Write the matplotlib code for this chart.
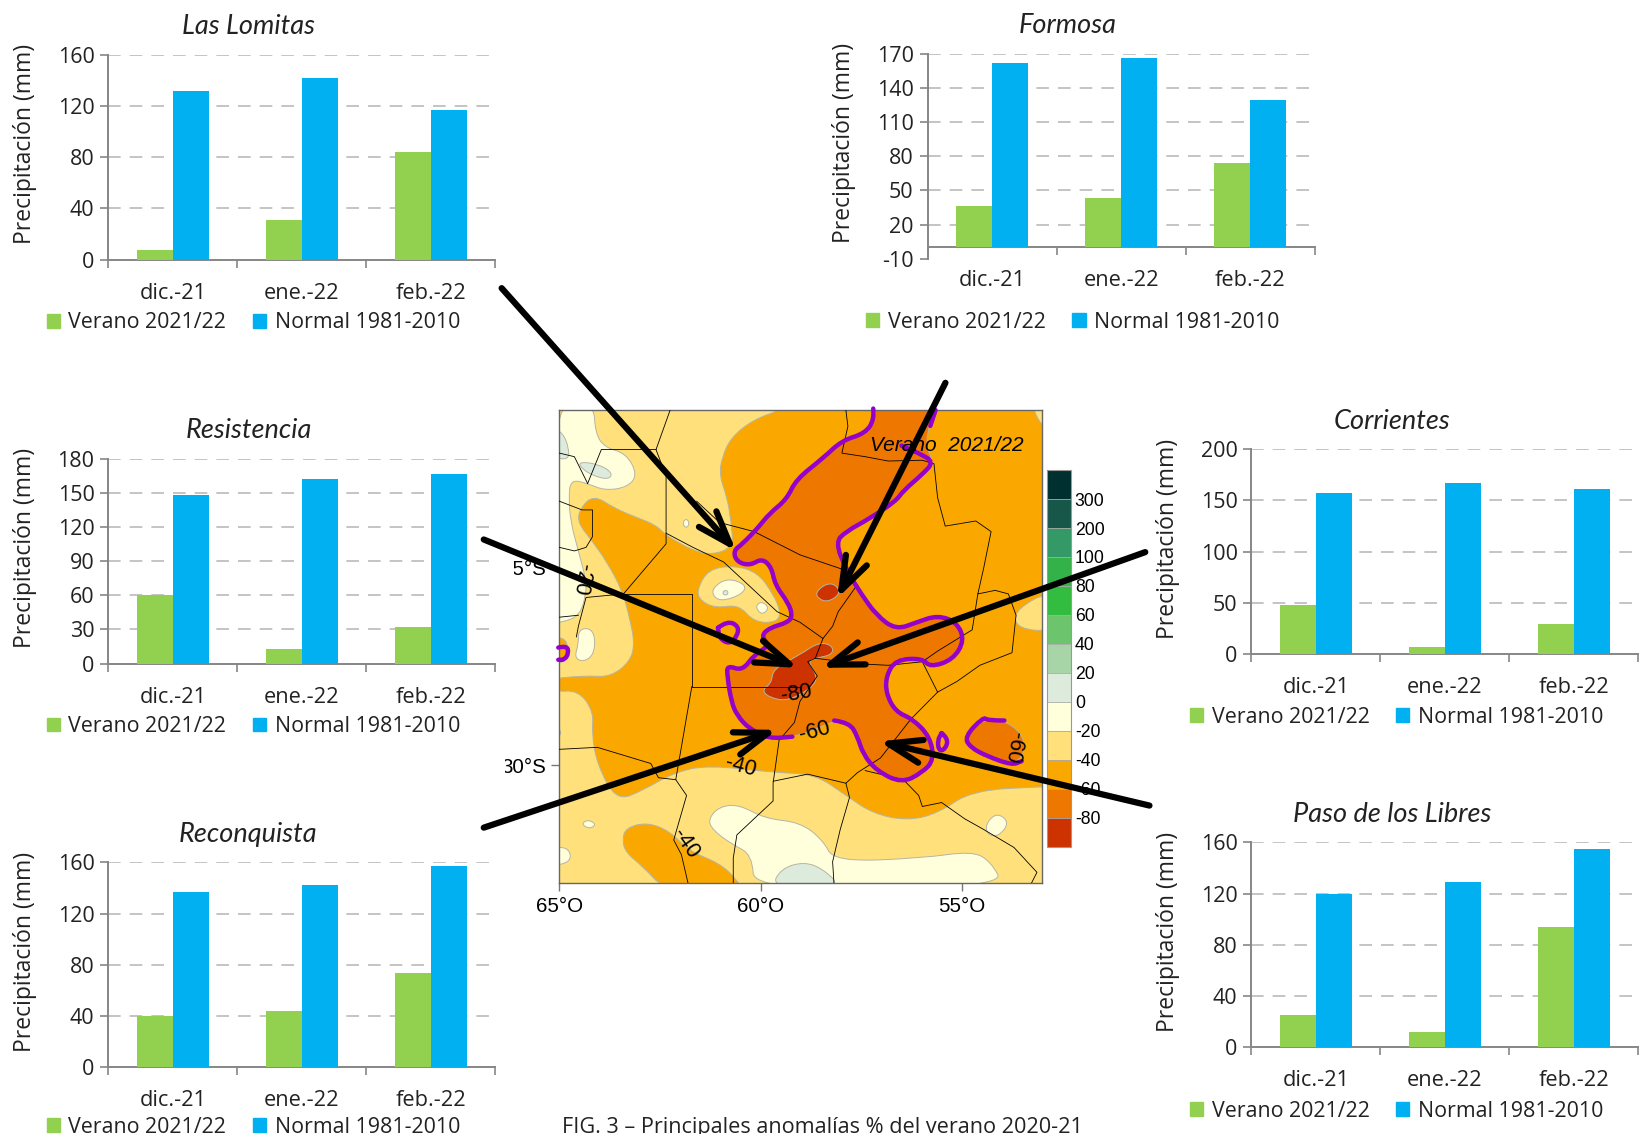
import matplotlib
matplotlib.use("Agg")
import matplotlib.pyplot as plt
import matplotlib as mpl
from matplotlib.path import Path
from matplotlib.patches import PathPatch, Patch
from matplotlib.transforms import Bbox
from matplotlib.colors import ListedColormap, BoundaryNorm

W, H = 1568.0, 1078.3
months = ["dic.-21", "ene.-22", "feb.-22"]
verano_label = "Verano 2021/22"
normal_label = "Normal 1981-2010"
ylabel_text = "Precipitación (mm)"

lomitas_verano = [8, 31, 84]
lomitas_normal = [132, 142, 117]
lomitas_ticks = [0, 40, 80, 120, 160]
formosa_verano = [36, 43, 74]
formosa_normal = [162, 166, 129]
formosa_ticks = [-10, 20, 50, 80, 110, 140, 170]
resistencia_verano = [60, 13, 32]
resistencia_normal = [148, 162, 166]
resistencia_ticks = [0, 30, 60, 90, 120, 150, 180]
reconquista_verano = [40, 44, 74]
reconquista_normal = [137, 142, 157]
reconquista_ticks = [0, 40, 80, 120, 160]
corrientes_verano = [48, 7, 29]
corrientes_normal = [157, 167, 161]
corrientes_ticks = [0, 50, 100, 150, 200]
libres_verano = [25, 12, 94]
libres_normal = [120, 129, 155]
libres_ticks = [0, 40, 80, 120, 160]

levels = [-100, -80, -60, -40, -20, 0, 20, 40, 60, 80, 100, 200, 300, 400]
level_colors = ["#CC3300", "#EE7700", "#FAA800", "#FFE07A", "#FFFFDC", "#DCEBDC", "#A8D5A8",
                "#6CC56C", "#33BD40", "#33B24A", "#339966", "#17574A", "#00302F"]
C_RED, C_DEEP, C_ORANGE, C_YELLOW, C_WHITE, C_PALE = level_colors[:6]

orange_main = [(-59.5,-20.8),(-59.5,-21.0),(-60.16,-21.23),(-60.73,-21.68),(-60.97,-22.22),(-61.02,-22.67),(-60.83,-23.22),
 (-60.73,-23.85),(-60.68,-24.48),(-61.21,-24.67),(-61.68,-24.56),(-62.21,-24.26),(-62.40,-24.12),(-62.63,-23.90),(-63.11,-23.71),
 (-63.63,-23.49),(-64.15,-23.15),(-64.49,-23.49),(-64.55,-23.85),(-64.20,-24.30),(-63.82,-24.85),(-63.44,-25.57),(-63.25,-26.29),
 (-63.13,-26.93),(-63.25,-27.38),(-63.73,-27.76),(-64.25,-27.74),(-64.68,-27.76),(-65.15,-27.81),(-65.15,-28.15),(-64.53,-28.10),
 (-64.15,-28.65),(-64.20,-29.19),(-64.06,-30.00),(-63.58,-30.91),(-62.92,-30.64),(-62.16,-30.19),(-61.30,-30.00),(-59.69,-30.19),
 (-58.64,-30.23),(-57.88,-30.77),(-57.21,-31.23),(-56.36,-31.41),(-55.60,-31.23),(-54.74,-30.64),(-53.0,-30.55),(-52.8,-30.55),
 (-52.8,-30.55),(-52.8,-21.41),(-52.8,-21.41),(-53.0,-21.41),(-53.22,-21.0),(-53.22,-20.8),(-53.22,-20.8),(-59.5,-20.8)]
orange_left = [(-65.3,-26.8),(-64.91,-26.75),(-64.77,-27.0),(-64.84,-27.4),(-65.3,-27.45)]
orange_south = [(-63.44,-31.90),(-63.35,-31.59),(-62.82,-31.45),(-62.25,-31.68),(-61.78,-32.18),(-61.02,-32.49),(-60.59,-32.90),
 (-60.45,-33.2),(-62.35,-33.2),(-62.92,-32.58),(-63.35,-32.22)]
yellow_east = [(-52.8,-25.57),(-53.60,-26.02),(-53.70,-26.38),(-53.41,-26.57),(-52.8,-26.6)]
yellow_center = [(-61.59,-25.57),(-61.30,-25.03),(-60.64,-24.94),(-60.07,-25.12),(-59.69,-25.66),(-59.50,-26.11),(-59.59,-26.38),
 (-60.16,-26.38),(-60.54,-25.93),(-61.11,-26.02),(-61.49,-25.84)]

white_northwest = [(-65.2,-20.8),(-64.15,-20.8),(-64.11,-21.59),(-63.87,-21.95),(-63.35,-22.09),(-63.06,-22.63),(-63.30,-22.95),
 (-63.87,-23.04),(-64.30,-22.86),(-64.72,-22.76),(-64.77,-23.22),(-64.72,-23.85),(-64.53,-24.57),(-64.34,-25.30),(-64.34,-25.66),
 (-64.49,-26.20),(-64.91,-26.38),(-65.2,-26.38)]
white_west = [(-64.53,-26.57),(-64.25,-26.52),(-64.11,-26.75),(-64.15,-27.20),(-64.39,-27.38),(-64.63,-27.29),(-64.53,-26.93)]
white_center = [(-61.21,-25.52),(-60.83,-25.25),(-60.35,-25.43),(-60.45,-25.66),(-60.92,-25.84),(-61.16,-25.75)]
white_center2 = [(-60.14,-25.98),(-59.97,-25.84),(-59.78,-26.02),(-59.97,-26.20)]
white_dot = [(-61.95,-23.87),(-61.85,-23.74),(-61.76,-23.87),(-61.85,-24.0)]
white_south = [(-61.30,-31.36),(-61.02,-31.05),(-60.54,-31.00),(-59.88,-31.36),(-59.02,-31.45),(-58.45,-31.90),(-58.17,-32.45),
 (-55.98,-32.36),(-54.74,-32.18),(-54.27,-32.45),(-53.94,-33.1),(-60.16,-33.2),(-60.21,-32.27),(-60.73,-32.0),(-61.21,-31.63)]
white_se = [(-54.41,-31.50),(-54.13,-31.20),(-53.81,-31.45),(-54.08,-31.81),(-54.36,-31.77)]
white_sw = [(-64.46,-31.50),(-64.30,-31.38),(-64.08,-31.50),(-64.25,-31.62)]
white_sw2 = [(-65.15,-32.09),(-64.82,-32.09),(-64.7,-32.31),(-64.82,-32.49),(-65.15,-32.54)]
white_w3 = [(-65.15,-28.92),(-64.91,-29.19),(-65.15,-29.37)]
pale_nw1 = [(-65.2,-21.41),(-64.91,-21.59),(-64.77,-21.95),(-64.77,-22.27),(-65.2,-22.18)]
pale_nw2 = [(-64.53,-22.31),(-64.06,-22.36),(-63.68,-22.58),(-63.77,-22.76),(-64.15,-22.67),(-64.44,-22.49)]
pale_center = [(-60.96,-25.63),(-60.87,-25.55),(-60.79,-25.63),(-60.87,-25.71)]
pale_south = [(-59.73,-33.1),(-59.50,-32.63),(-58.93,-32.45),(-58.45,-32.63),(-57.98,-33.1)]

deep_main = [(-57.12,-20.86),(-57.17,-21.23),(-57.40,-21.59),(-57.98,-21.77),(-58.45,-22.22),(-59.12,-22.76),(-59.35,-23.26),
 (-59.78,-23.62),(-60.07,-23.99),(-60.45,-24.39),(-60.68,-24.57),(-60.59,-24.85),(-60.26,-24.94),(-59.97,-24.76),(-59.73,-24.98),
 (-59.64,-25.43),(-59.31,-25.89),(-59.21,-26.20),(-59.31,-26.38),(-59.78,-26.52),(-59.99,-26.73),(-59.78,-26.97),(-60.16,-27.20),
 (-60.45,-27.61),(-60.83,-27.47),(-60.83,-27.74),(-60.73,-28.38),(-60.59,-28.74),(-60.26,-29.10),(-59.78,-29.33),(-59.21,-29.28),
 (-58.74,-29.14),(-58.17,-28.87),(-57.79,-28.92),(-57.59,-29.28),(-57.45,-29.73),(-57.12,-30.14),(-56.50,-30.46),(-55.98,-30.19),
 (-55.69,-29.87),(-55.79,-29.28),(-56.22,-28.83),(-56.64,-28.65),(-56.88,-28.19),(-56.88,-27.74),(-56.64,-27.33),(-55.98,-27.29),
 (-55.79,-27.52),(-55.22,-27.33),(-54.93,-26.84),(-55.12,-26.38),(-55.60,-26.20),(-56.12,-26.38),(-56.64,-26.57),(-57.12,-26.20),
 (-57.50,-25.66),(-57.88,-25.03),(-58.14,-24.35),(-57.88,-24.08),(-57.31,-23.76),(-56.64,-23.31),(-56.45,-23.04),(-55.98,-22.63),
 (-55.69,-22.31),(-55.93,-21.86),(-55.65,-20.86)]
deep_east = [(-54.93,-29.28),(-54.46,-28.83),(-53.94,-28.87),(-53.51,-29.19),(-53.41,-29.64),(-53.70,-30.00),(-54.36,-29.82),(-54.84,-29.55)]
red_north = [(-58.64,-25.62),(-58.36,-25.39),(-58.12,-25.43),(-58.02,-25.66),(-58.31,-25.86),(-58.55,-25.80)]
red_center = [(-59.69,-27.56),(-59.02,-27.20),(-58.55,-26.88),(-58.21,-26.97),(-58.21,-27.20),(-58.64,-27.29),(-58.83,-27.38),
 (-58.59,-27.74),(-58.69,-28.01),(-59.31,-28.38),(-59.78,-28.29),(-59.97,-28.10),(-59.73,-27.92)]

purple_west = [(-57.2,-20.96)] + deep_main[1:31]
purple_east = deep_main[32:64] + [(-56.07,-22.09),(-56.50,-21.9)]
purple_north = [(-55.65,-21.0),(-55.78,-21.4)]
purple_loop_e = [(-55.50,-29.19),(-55.33,-29.33),(-55.41,-29.60),(-55.57,-29.64),(-55.60,-29.37),(-55.50,-29.19)]
purple_blob = [(-53.94,-28.87),(-54.36,-28.87),(-54.46,-28.78),(-54.93,-29.28),(-54.79,-29.55),(-54.36,-29.78),(-53.75,-30.00),(-53.51,-29.90)]
purple_loop_w = [(-61.06,-26.52),(-60.83,-26.34),(-60.54,-26.48),(-60.59,-26.75),(-60.78,-26.93),(-61.02,-26.79),(-61.06,-26.52)]
purple_edge = [(-65.03,-27.02),(-64.82,-26.97),(-64.77,-27.15),(-64.87,-27.33),(-65.03,-27.33)]

border_lines = [
 [(-62.25,-21),(-62.60,-22),(-63.96,-22),(-64.30,-22.86)],
 [(-65,-22.09),(-64.63,-22.18),(-64.30,-22.86)],
 [(-62.60,-22),(-62.35,-22.67),(-62.35,-24.39),(-63.41,-25.66),(-64.34,-25.75),(-64.53,-26.48),(-64.58,-26.75)],
 [(-62.35,-24.12),(-61.68,-24.48),(-60.92,-24.85),(-60.35,-25.39),(-59.59,-26.11),(-59.02,-26.38),(-58.45,-26.79)],
 [(-61.59,-23.31),(-61.02,-23.85),(-60.16,-24.08),(-59.02,-24.67),(-57.98,-25.03),(-57.60,-25.43),(-58.07,-26.11),(-58.21,-26.48),
  (-58.45,-26.79),(-58.64,-27.29),(-58.83,-27.38),(-58.59,-27.74),(-59.02,-28.38),(-59.16,-28.92),(-59.54,-29.37),(-59.69,-30.46),
  (-59.69,-30.91),(-60.59,-31.77),(-60.68,-32.36),(-60.68,-33.1)],
 [(-57.88,-21),(-57.83,-21.41),(-57.98,-22.09),(-57.40,-22.18),(-56.83,-22.29),(-55.98,-22.27),(-55.69,-22.36),(-55.60,-23.22),
  (-55.41,-23.94),(-54.65,-23.81),(-54.27,-24.08),(-54.46,-25.03),(-54.60,-25.66),(-54.17,-25.57),(-53.84,-25.66),(-53.65,-26.20),
  (-53.75,-27.15),(-54.55,-27.47),(-55.12,-27.88),(-55.60,-28.15),(-56.26,-28.83),(-57.02,-29.82),(-57.59,-30.19),(-57.88,-30.46),
  (-57.79,-30.82),(-58.02,-31.63),(-58.21,-32.45),(-58.17,-33.1)],
 [(-58.64,-27.29),(-57.59,-27.43),(-56.83,-27.47),(-55.98,-27.38),(-55.60,-27.11),(-54.74,-26.57),(-54.60,-25.66)],
 [(-55.98,-27.38),(-55.60,-28.15)],
 [(-57.40,-30.14),(-56.45,-30.37),(-56.07,-30.77),(-55.98,-31.05),(-55.50,-30.95),(-54.93,-31.36),(-54.46,-31.63),(-53.70,-32.09),
  (-53.13,-32.72),(-53.32,-33.1)],
 [(-63.41,-25.66),(-61.71,-25.66),(-61.71,-28.01),(-59.02,-28.01)],
 [(-61.71,-28.01),(-62.11,-30.37),(-61.84,-30.77),(-62.16,-31.90),(-61.97,-32.27),(-61.78,-33.1)],
 [(-62.11,-30.37),(-62.54,-30.32),(-62.73,-29.96),(-64.06,-29.55),(-65,-29.60)],
 [(-59.69,-30.41),(-58.83,-30.23),(-57.88,-30.46)],
 [(-65,-23.31),(-64.44,-23.53),(-64.18,-23.53),(-64.18,-24.21),(-64.34,-24.48),(-64.63,-24.57),(-65,-24.48)],
 [(-64.53,-26.2),(-65,-26.25)],
]

contour_labels = [("-40", -60.5, -30.03, -15), ("-60", -58.66, -29.15, 15), ("-80", -59.12, -28.2, 10),
                  ("-40", -61.87, -32.0, -55), ("-60", -53.7, -29.55, -100), ("-20", -64.45, -25.3, -100)]

plt.rcParams["font.family"] = ["Open Sans", "DejaVu Sans"]
plt.rcParams["axes.unicode_minus"] = False
fig = plt.figure(figsize=(16.49, 11.34), dpi=100)


def rect(x0, y0, x1, y1):
    return [x0 / W, 1 - y1 / H, (x1 - x0) / W, (y1 - y0) / H]


def fp(x, y):
    return (x / W, 1 - y / H)


def smooth_path(pts, closed=True):
    verts, codes = [], []
    mid = lambda a, b: ((a[0] + b[0]) / 2, (a[1] + b[1]) / 2)
    n = len(pts)
    if closed:
        verts.append(mid(pts[-1], pts[0])); codes.append(Path.MOVETO)
        for i in range(n):
            verts += [pts[i], mid(pts[i], pts[(i + 1) % n])]
            codes += [Path.CURVE3, Path.CURVE3]
    else:
        verts.append(pts[0]); codes.append(Path.MOVETO)
        for i in range(1, n - 1):
            verts += [pts[i], mid(pts[i], pts[i + 1])]
            codes += [Path.CURVE3, Path.CURVE3]
        verts.append(pts[-1]); codes.append(Path.LINETO)
    return Path(verts, codes)


def chart(rc, title, tpos, verano, normal, ticks, zero, legend_y):
    ax = fig.add_axes(rect(*rc))
    ax.set_xlim(0, 3)
    ax.set_ylim(ticks[0], ticks[-1])
    xs = [0.5, 1.5, 2.5]
    ax.bar([x - 0.14 for x in xs], verano, 0.28, color="#92D050", zorder=3)
    ax.bar([x + 0.14 for x in xs], normal, 0.28, color="#00B0F0", zorder=3)
    for s in ("top", "right"):
        ax.spines[s].set_visible(False)
    for s in ("left", "bottom"):
        ax.spines[s].set_color("#868686")
        ax.spines[s].set_linewidth(1.4)
    ax.spines["bottom"].set_position(("data", zero))
    ax.set_yticks(ticks)
    ax.set_xticks([0, 1, 2, 3])
    ax.set_xticklabels([])
    ax.set_xticks(xs, minor=True)
    ax.set_xticklabels(months, minor=True, fontsize=15.7, color="#222222")
    ax.tick_params(axis="x", which="minor", length=0, pad=16.5)
    ax.tick_params(axis="x", which="major", length=6, color="#868686", width=1.2)
    ax.tick_params(axis="y", length=6, color="#868686", width=1.2, labelsize=15.5, labelcolor="#222222", pad=4)
    for t in ticks:
        if t > zero:
            ax.axhline(t, color="#BFBFBF", lw=1.3, dashes=(7, 5), zorder=1)
    ax.set_ylabel(ylabel_text, fontsize=16.5, color="#222222", va="center")
    ax.yaxis.set_label_coords(-79 / 368, 0.564)
    ax.text(tpos[0], tpos[1], title, transform=ax.transAxes, ha="center", va="center",
            fontsize=19.5, style="italic", family="Lato", color="#222222")
    ax.legend(handles=[Patch(color="#92D050", label=verano_label), Patch(color="#00B0F0", label=normal_label)],
              loc="center", bbox_to_anchor=(0.375, legend_y), ncol=2, frameon=False, fontsize=15.4,
              handlelength=0.62, handleheight=0.62, handletextpad=0.4, columnspacing=1.25, labelcolor="#222222")
    return ax


chart((103, 52, 471, 247), "Las Lomitas", (0.361, 1.138), lomitas_verano, lomitas_normal, lomitas_ticks, 0, -0.307)
chart((882, 51, 1250, 246), "Formosa", (0.361, 1.138), formosa_verano, formosa_normal, formosa_ticks, 0, -0.31)
chart((103, 436, 471, 631), "Resistencia", (0.364, 1.138), resistencia_verano, resistencia_normal, resistencia_ticks, 0, -0.307)
chart((103, 820, 471, 1015), "Reconquista", (0.361, 1.138), reconquista_verano, reconquista_normal, reconquista_ticks, 0, -0.292)
chart((1190, 427, 1558, 622), "Corrientes", (0.364, 1.134), corrientes_verano, corrientes_normal, corrientes_ticks, 0, -0.307)
chart((1190, 801, 1558, 996), "Paso de los Libres", (0.364, 1.134), libres_verano, libres_normal, libres_ticks, 0, -0.31)

# map
m = fig.add_axes(rect(532, 390, 991, 840), zorder=5)
m.set_xlim(-65, -53)
m.set_ylim(-33, -21)
m.set_facecolor(C_YELLOW)
shaded = [(orange_main, C_ORANGE), (orange_left, C_ORANGE), (orange_south, C_ORANGE), (yellow_east, C_YELLOW),
          (yellow_center, C_YELLOW), (white_northwest, C_WHITE), (white_west, C_WHITE), (white_center, C_WHITE),
          (white_center2, C_WHITE), (white_dot, C_WHITE), (white_south, C_WHITE), (white_se, C_WHITE),
          (white_sw, C_WHITE), (white_sw2, C_WHITE), (white_w3, C_WHITE), (pale_nw1, C_PALE), (pale_nw2, C_PALE),
          (pale_center, C_PALE), (pale_south, C_PALE), (deep_main, C_DEEP), (deep_east, C_DEEP),
          (red_north, C_RED), (red_center, C_RED)]
for pts, col in shaded:
    m.add_patch(PathPatch(smooth_path(pts), facecolor=col, edgecolor="#B5B5A5", lw=0.7, zorder=2))
for line in border_lines:
    xs, ys = zip(*line)
    m.plot(xs, ys, color="black", lw=0.6, zorder=3)
for path in (purple_west, purple_east, purple_north, purple_loop_e, purple_blob, purple_loop_w, purple_edge):
    m.add_patch(PathPatch(smooth_path(path, False), facecolor="none", edgecolor="#9400CC", lw=3.2, zorder=4,
                          capstyle="round", clip_on=False))
for txt, lon, lat, rot in contour_labels:
    m.text(lon, lat, txt, rotation=rot, ha="center", va="center", fontsize=15.5, family="Liberation Sans",
           color="black", zorder=5)
m.text(-55.36, -21.9, "Verano  2021/22", ha="center", va="center", fontsize=15, style="italic",
       family="Liberation Sans", color="black", zorder=5)
m.set_xticks([-65, -60, -55])
m.set_xticklabels(["65°O", "60°O", "55°O"], family="Liberation Sans", fontsize=14.8)
m.set_yticks([-25, -30])
labs = m.set_yticklabels(["25°S", "30°S"], family="Liberation Sans", fontsize=14.8)
for l, clip_x in zip(labs, (489, 480)):
    l.set_clip_box(Bbox.from_extents(fp(clip_x, 0)[0] * 1649, 0, 1649, 1134))
    l.set_clip_on(True)
m.tick_params(length=6, color="#777777", width=1, pad=4)
for s in m.spines.values():
    s.set_color("#666666")
    s.set_linewidth(1)

# colour scale
cax = fig.add_axes(rect(996, 447, 1018, 805), zorder=5)
cmap = ListedColormap(level_colors)
norm = BoundaryNorm(levels, cmap.N)
cb = mpl.colorbar.ColorbarBase(cax, cmap=cmap, norm=norm, spacing="uniform", ticks=levels[1:-1], drawedges=True)
cb.ax.set_yticklabels([str(v) for v in levels[1:-1]], family="Liberation Sans", fontsize=12.7)
cb.ax.tick_params(length=0, pad=3)
cb.ax.minorticks_off()
cb.outline.set_edgecolor("#999999")
cb.dividers.set_color("#AAAAAA")
cb.dividers.set_linewidth(0.6)

# arrows from each station chart to its location
arrows = [((477, 274), (700, 524)), ((899, 364), (796, 569)), ((460, 513), (759, 635)),
          ((1089, 525), (781, 635)), ((460, 787), (739, 694)), ((1093, 766), (836, 705))]
over = fig.add_axes([0, 0, 1, 1], zorder=10)
over.axis("off")
for a, b in arrows:
    over.annotate("", xy=fp(*b), xytext=fp(*a), xycoords="figure fraction", textcoords="figure fraction",
                  arrowprops=dict(arrowstyle="->,head_length=0.8,head_width=0.28", lw=4.5, color="black",
                                  shrinkA=0, shrinkB=0, mutation_scale=30))

fig.text(534 / W, 1 - 1072 / H, "FIG. 3 – Principales anomalías % del verano 2020-21", fontsize=15.6, color="#222222",
         ha="left", va="center", zorder=20)

fig.savefig("out.png", dpi=100)
